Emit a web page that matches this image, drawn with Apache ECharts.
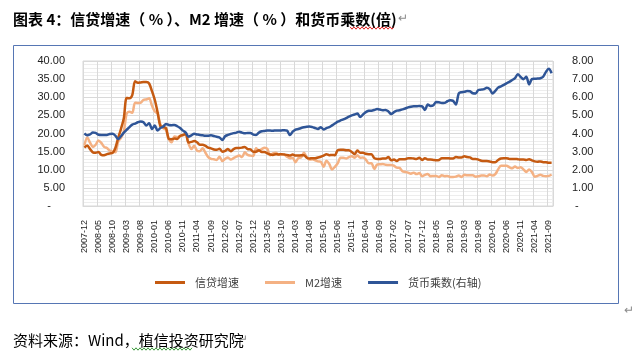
<!DOCTYPE html>
<html><head><meta charset="utf-8">
<script src="https://cdn.jsdelivr.net/npm/echarts@6/dist/echarts.min.js"></script>
<style>html,body{margin:0;padding:0;background:#fff}#c{width:640px;height:360px}</style>
</head><body><div id="c"></div>
<script>
const titleText = '图表 4：信贷增速（ % ）、M2 增速（ % ）和货币乘数(倍)';
const sourceText = '资料来源：Wind，植信投资研究院';
const seriesNames = ['信贷增速', 'M2增速', '货币乘数(右轴)'];
const startYear = 2007, startMonth = 12, monthCount = 167;

const credit = [16.1,
 16.7,15.7,14.8,14.7,14.9,14.1,14.0,14.3,14.5,14.6,16.0,18.8,
 21.3,24.2,29.8,29.7,30.6,34.4,34.0,34.1,34.2,34.2,33.8,31.7,
 29.3,25.9,22.0,21.8,21.5,18.5,18.4,18.6,18.5,19.3,19.6,19.9,
 17.5,17.7,17.9,17.6,16.9,16.9,16.6,16.1,15.9,15.6,15.5,15.8,
 15.0,15.2,15.7,15.1,15.7,16.0,16.0,16.1,16.3,15.7,15.6,15.0,
 15.0,15.4,14.9,14.9,14.5,14.2,14.1,14.3,14.2,14.3,14.2,14.1,
 13.9,14.2,13.9,13.9,14.0,14.0,13.3,13.1,13.2,13.2,13.4,13.6,
 13.9,14.3,14.0,14.1,14.0,15.4,15.5,15.5,15.4,15.4,14.9,14.3,
 15.3,14.7,14.7,14.4,14.3,14.3,13.2,13.0,13.0,13.1,13.1,13.5,
 12.6,12.8,12.4,12.9,12.9,12.9,13.2,13.2,13.1,13.0,13.3,12.7,
 13.2,12.8,12.8,12.7,12.6,12.7,13.2,13.2,13.2,13.1,13.1,13.5,
 13.4,13.4,13.7,13.5,13.4,13.0,13.0,12.8,12.5,12.4,12.4,12.3,
 12.1,12.1,12.7,13.1,13.2,13.2,13.0,13.0,13.0,12.9,12.8,12.8,
 12.7,12.9,12.6,12.3,12.2,12.3,12.1,12.1,11.9,11.9];

const m2 = [16.7,
 18.9,17.5,16.3,16.9,18.1,17.4,16.3,16.0,15.3,15.0,14.8,17.8,
 18.8,20.5,25.5,26.0,25.7,28.5,28.4,28.5,29.3,29.4,29.7,27.7,
 26.1,25.5,22.5,21.5,21.0,18.5,17.6,19.2,19.0,19.3,19.5,19.7,
 17.2,15.7,16.6,15.3,15.1,15.9,14.7,13.5,13.0,12.9,12.7,13.6,
 12.4,13.0,13.4,12.8,13.2,13.6,13.9,13.5,14.8,14.1,13.9,13.8,
 15.9,15.2,15.7,16.1,15.8,14.0,14.5,14.7,14.2,14.3,14.2,13.6,
 13.2,13.3,12.1,13.2,13.4,14.7,13.5,12.8,12.9,12.6,12.3,12.2,
 10.8,12.5,11.6,10.1,10.8,11.8,13.3,13.3,13.1,13.5,13.7,13.3,
 14.0,13.3,13.4,12.8,11.8,11.8,10.2,11.4,11.5,11.6,11.4,11.3,
 11.3,11.1,10.6,10.5,9.6,9.4,9.2,8.9,9.2,8.8,9.1,8.2,
 8.6,8.8,8.2,8.3,8.3,8.0,8.5,8.2,8.3,8.0,8.0,8.1,
 8.4,8.0,8.6,8.5,8.5,8.5,8.1,8.2,8.4,8.4,8.2,8.7,
 8.4,8.8,10.1,11.1,11.1,11.1,10.7,10.4,10.9,10.5,10.7,10.1,
 9.4,10.1,9.4,8.1,8.3,8.6,8.3,8.2,8.3,8.7];

const multiplier = [4.01,
 3.90,3.95,4.05,4.03,3.93,3.92,3.92,3.92,3.97,3.98,3.88,3.69,
 3.85,4.05,4.20,4.35,4.49,4.55,4.62,4.66,4.62,4.44,4.57,4.25,
 4.44,4.16,4.30,4.38,4.53,4.47,4.46,4.47,4.40,4.30,4.16,4.05,
 3.82,3.90,3.98,3.95,3.92,3.90,3.88,3.88,3.90,3.86,3.82,3.78,
 3.64,3.85,3.92,3.98,4.02,4.05,4.10,4.05,4.01,4.03,4.03,3.94,
 3.92,4.05,4.12,4.14,4.16,4.16,4.15,4.17,4.16,4.17,4.18,4.16,
 3.92,4.10,4.22,4.25,4.30,4.34,4.37,4.38,4.35,4.30,4.25,4.35,
 4.22,4.30,4.35,4.45,4.55,4.65,4.72,4.78,4.85,4.93,5.00,5.05,
 5.10,4.91,5.05,5.18,5.25,5.26,5.30,5.35,5.32,5.28,5.30,5.22,
 5.07,5.18,5.26,5.28,5.33,5.38,5.44,5.48,5.50,5.50,5.52,5.50,
 5.30,5.60,5.52,5.56,5.74,5.72,5.68,5.69,5.78,5.83,5.80,5.60,
 6.21,6.28,6.30,6.34,6.33,6.22,6.21,6.40,6.42,6.45,6.53,6.45,
 6.21,6.35,6.53,6.60,6.68,6.77,6.85,6.95,7.05,7.27,7.12,7.00,
 7.13,6.71,7.00,7.02,7.03,7.05,7.13,7.40,7.57,7.33];

const months = [];
for (let k = 0; k < monthCount; k++) {
  const t = (startYear * 12 + startMonth - 1) + k;
  const y = Math.floor(t / 12), m = t % 12 + 1;
  months.push(y + '-' + (m < 10 ? '0' + m : m));
}

function wave(x0, x1, y) {
  const pts = [];
  let s = 0;
  for (let x = x0; x <= x1; x += 2) { pts.push([x, y + (s % 2 ? 1.2 : -1.2)]); s++; }
  return pts;
}

const chart = echarts.init(document.getElementById('c'), null, {renderer: 'canvas'});
const numFont = 'Liberation Sans, Arial, sans-serif';
const cjkFont = '"Noto Sans CJK SC", sans-serif';
chart.setOption({
  animation: false,
  backgroundColor: '#fff',
  title: [
    {text: titleText, left: 8, top: 7, textStyle: {fontFamily: cjkFont, fontSize: 15, fontWeight: 'bold', color: '#000'}},
    {text: sourceText, left: 8, top: 328, textStyle: {fontFamily: cjkFont, fontSize: 15, fontWeight: 'normal', color: '#000'}}
  ],
  graphic: [
    {type: 'rect', shape: {x: 13.5, y: 45.5, width: 605, height: 258}, style: {fill: 'none', stroke: '#5676B4', lineWidth: 1}, silent: true},
    {type: 'polyline', shape: {points: wave(350, 394, 28)}, style: {stroke: '#E02020', lineWidth: 1, fill: null}},
    {type: 'polyline', shape: {points: wave(132, 193, 349)}, style: {stroke: '#3A9A3A', lineWidth: 1, fill: null}},
    {type: 'text', x: 398, y: 11, style: {text: '↵', fill: '#8a8a8a', font: '12px ' + cjkFont}},
    {type: 'text', x: 238, y: 332, style: {text: '↵', fill: '#8a8a8a', font: '12px ' + cjkFont}},
    {type: 'text', x: 624, y: 303, style: {text: '↵', fill: '#8a8a8a', font: '12px ' + cjkFont}}
  ],
  legend: {
    top: 272, left: 150, itemWidth: 30, itemHeight: 3, itemGap: 26, icon: 'rect',
    textStyle: {fontFamily: cjkFont, fontSize: 11, color: '#404040', padding: [0, 0, 0, 5]},
    data: seriesNames
  },
  grid: {left: 83, right: 87, top: 61, bottom: 154, show: true, borderColor: '#D9D9D9', borderWidth: 1},
  xAxis: {
    type: 'category', data: months, boundaryGap: true,
    axisLine: {lineStyle: {color: '#D9D9D9'}},
    axisTick: {show: false},
    axisLabel: {interval: 4, rotate: 90, margin: 14, fontFamily: numFont, fontSize: 9, color: '#222'},
    splitLine: {show: true, interval: 4, lineStyle: {color: '#D9D9D9', width: 1}}
  },
  yAxis: [
    {type: 'value', min: 0, max: 40, interval: 5, position: 'left',
     axisLine: {show: false}, axisTick: {show: false},
     axisLabel: {margin: 18, fontFamily: numFont, fontSize: 11, color: '#222',
       formatter: v => v === 0 ? '{d|-}' : v.toFixed(2),
       rich: {d: {padding: [0, 14, 0, 0], fontFamily: numFont, fontSize: 11, color: '#222'}}},
     splitLine: {lineStyle: {color: '#D9D9D9'}},
     minorTick: {show: false, splitNumber: 5},
     minorSplitLine: {show: true, lineStyle: {color: '#EDEDED'}}
    },
    {type: 'value', min: 0, max: 8, interval: 1, position: 'right',
     axisLine: {show: false}, axisTick: {show: false}, splitLine: {show: false},
     axisLabel: {margin: 19, fontFamily: numFont, fontSize: 11, color: '#222',
       formatter: v => v === 0 ? '{d|-}' : v.toFixed(2),
       rich: {d: {padding: [0, 0, 0, 3], fontFamily: numFont, fontSize: 11, color: '#222'}}}
    }
  ],
  series: [
    {name: seriesNames[0], type: 'line', data: credit, yAxisIndex: 0, showSymbol: false, smooth: 0.3,
     lineStyle: {color: '#C55A11', width: 2.5}, itemStyle: {color: '#C55A11'}, z: 3},
    {name: seriesNames[1], type: 'line', data: m2, yAxisIndex: 0, showSymbol: false, smooth: 0.3,
     lineStyle: {color: '#F4B183', width: 2.5}, itemStyle: {color: '#F4B183'}, z: 2},
    {name: seriesNames[2], type: 'line', data: multiplier, yAxisIndex: 1, showSymbol: false, smooth: 0.3,
     lineStyle: {color: '#2F5597', width: 2.5}, itemStyle: {color: '#2F5597'}, z: 4}
  ]
});
</script></body></html>
